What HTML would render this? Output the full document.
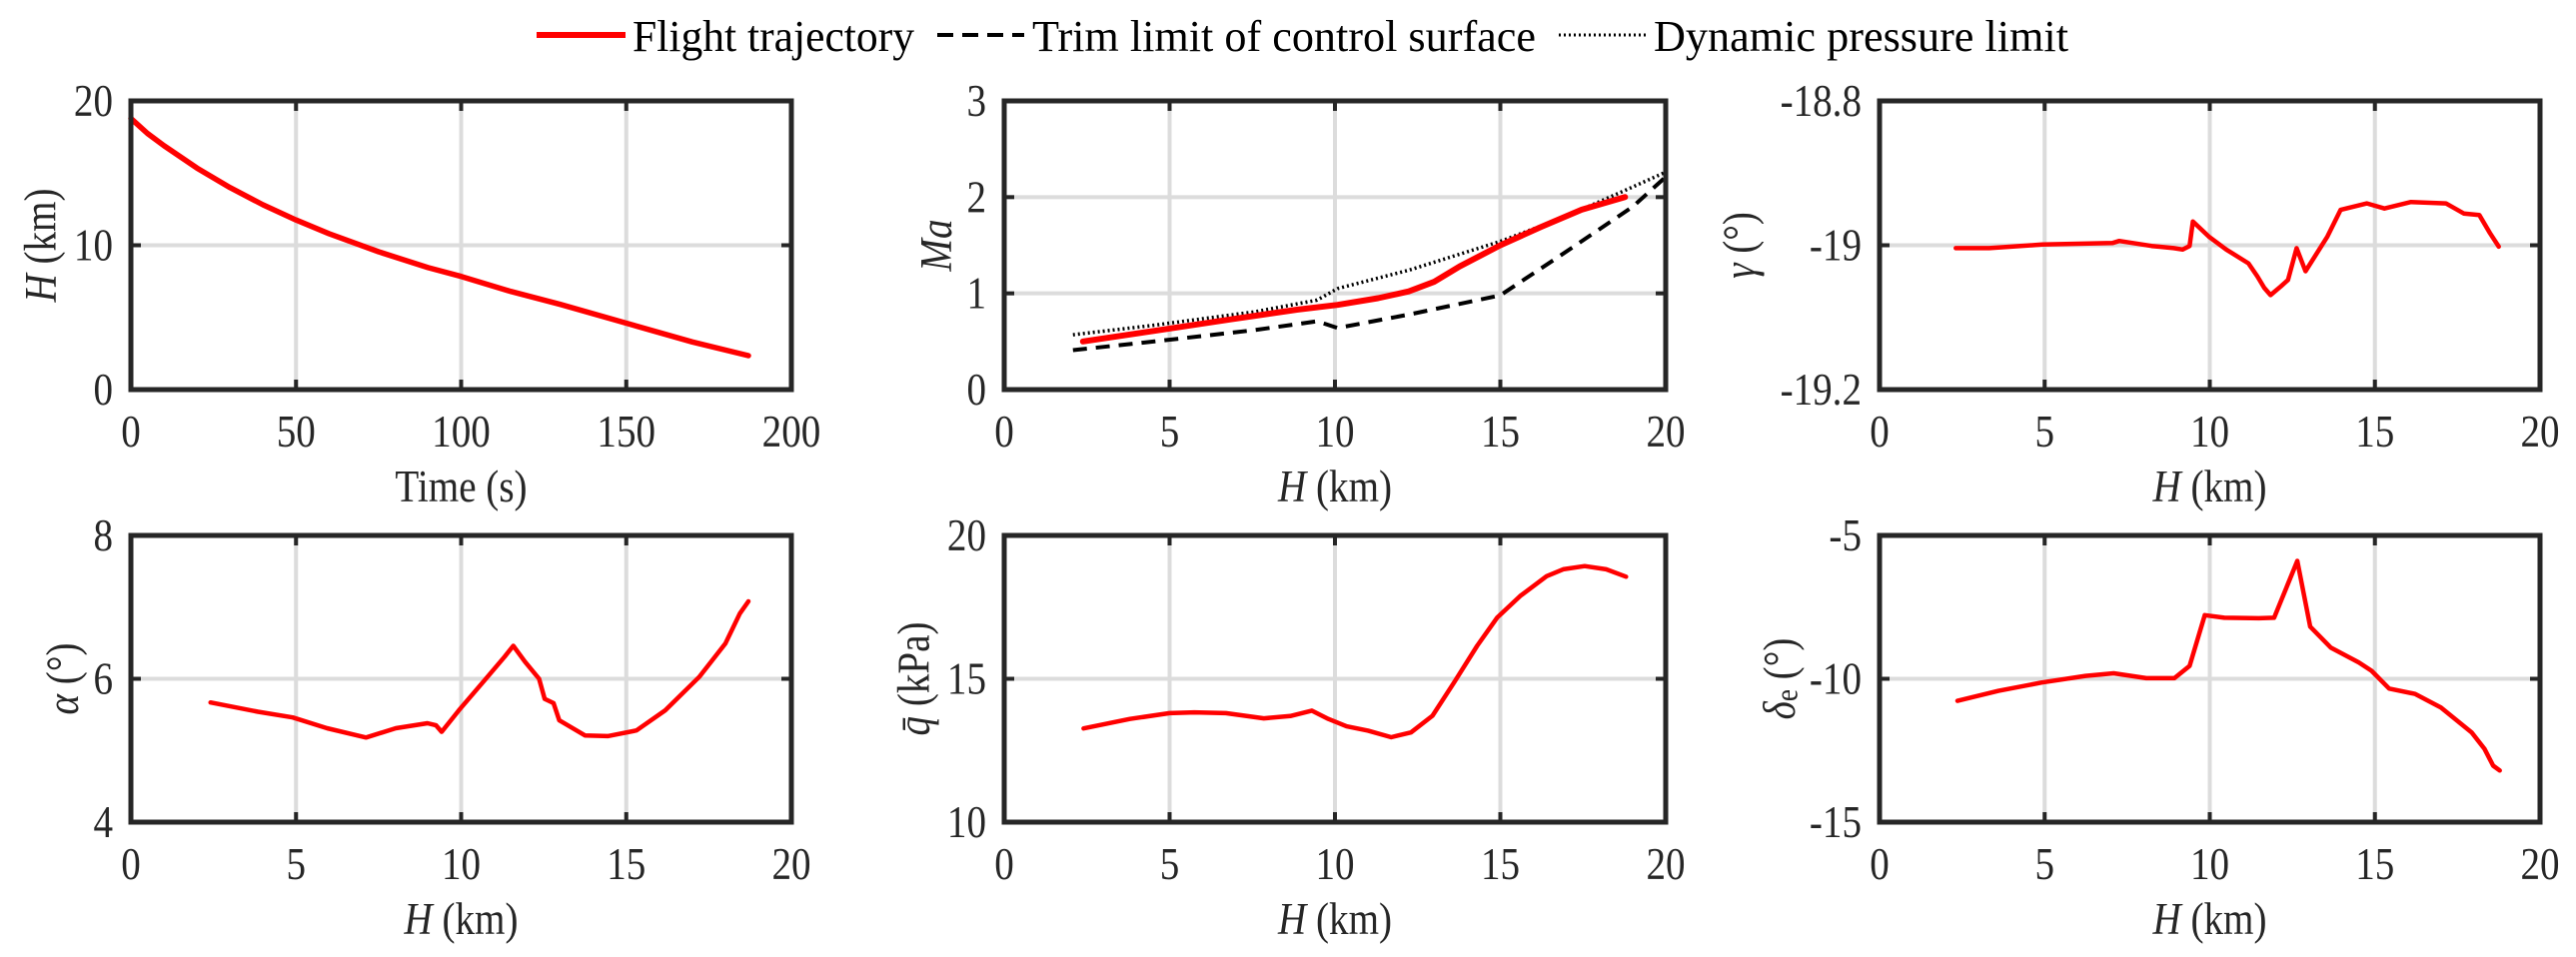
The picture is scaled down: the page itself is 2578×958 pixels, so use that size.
<!DOCTYPE html>
<html><head><meta charset="utf-8"><style>
html,body{margin:0;padding:0;background:#fff;}
svg{display:block;font-family:"Liberation Serif",serif;}
</style></head><body>
<svg id="fig" width="2578" height="958" viewBox="0 0 2578 958" xmlns="http://www.w3.org/2000/svg">
<g>
  <line x1="537" y1="35" x2="626" y2="35" stroke="#ff0000" stroke-width="6"/>
  <text x="633" y="51" font-size="44" textLength="282" lengthAdjust="spacingAndGlyphs">Flight trajectory</text>
  <line x1="938" y1="35" x2="1025" y2="35" stroke="#000" stroke-width="4" stroke-dasharray="16,9"/>
  <text x="1033" y="51" font-size="44" textLength="504" lengthAdjust="spacingAndGlyphs">Trim limit of control surface</text>
  <line x1="1560" y1="35" x2="1648" y2="35" stroke="#000" stroke-width="3" stroke-dasharray="2,3"/>
  <text x="1655" y="51" font-size="44" textLength="415" lengthAdjust="spacingAndGlyphs">Dynamic pressure limit</text>
</g>
</svg>
<script>
// ---- data ----
const hTime = [0,5,10,20,30,40,50,60,75,90,100,115,130,150,170,187];
const hAlt = [18.78,17.75,16.9,15.35,14.0,12.8,11.75,10.8,9.55,8.45,7.84,6.8,5.9,4.6,3.3,2.35];

const maH = [2.38,4.54,6.85,8.85,10.08,11.3,12.23,13.0,13.77,15.0,16.23,17.46,18.77];
const maVal = [0.50,0.61,0.73,0.83,0.88,0.95,1.02,1.12,1.28,1.5,1.69,1.87,2.0];
const trimH = [2.08,4.54,7.6,9.46,10.08,12.23,15.0,16.85,19.0,20];
const trimVal = [0.41,0.5,0.62,0.71,0.64,0.78,0.98,1.40,1.9,2.21];
const dynH = [2.08,4.54,7.6,9.46,10.08,12.23,15.0,16.85,18.7,20];
const dynVal = [0.57,0.67,0.81,0.93,1.05,1.24,1.54,1.78,2.06,2.26];

const gamH = [2.31,3.32,4.92,7.05,7.26,8.24,8.91,9.18,9.39,9.49,9.97,10.5,11.17,11.44,11.65,11.84,12.15,12.37,12.63,12.9,13.56,13.96,14.76,15.29,16.09,17.15,17.69,18.16,18.48,18.75];
const gamVal = [-19.004,-19.004,-18.999,-18.997,-18.994,-19.001,-19.004,-19.006,-19.001,-18.967,-18.988,-19.006,-19.025,-19.043,-19.059,-19.069,-19.057,-19.048,-19.004,-19.036,-18.988,-18.951,-18.942,-18.949,-18.94,-18.942,-18.956,-18.958,-18.983,-19.002];

const alpH = [2.41,3.85,4.9,5.94,7.12,8.02,8.98,9.24,9.41,9.93,10.71,11.32,11.58,11.93,12.36,12.53,12.8,12.97,13.75,14.44,15.31,16.18,17.22,18.0,18.44,18.7];
const alpVal = [5.67,5.54,5.46,5.31,5.18,5.31,5.38,5.35,5.26,5.56,5.98,6.31,6.46,6.24,6.0,5.72,5.66,5.42,5.21,5.2,5.28,5.56,6.03,6.49,6.91,7.08];

const qH = [2.4,3.8,5.0,5.75,6.7,7.85,8.65,9.3,9.8,10.35,11.0,11.7,12.3,12.95,13.6,14.3,14.9,15.6,16.4,16.9,17.55,18.2,18.8];
const qVal = [13.27,13.6,13.8,13.83,13.8,13.62,13.7,13.89,13.6,13.34,13.19,12.96,13.13,13.71,14.87,16.15,17.13,17.89,18.58,18.82,18.93,18.82,18.56];

const deH = [2.36,3.6,4.92,6.24,7.09,8.08,8.93,9.39,9.85,10.44,11.49,11.95,12.65,13.04,13.66,14.51,14.9,15.43,16.22,17.0,17.93,18.32,18.58,18.78];
const deVal = [-10.77,-10.42,-10.13,-9.9,-9.81,-9.98,-9.98,-9.55,-7.78,-7.87,-7.89,-7.87,-5.89,-8.18,-8.91,-9.43,-9.72,-10.34,-10.53,-11.0,-11.87,-12.45,-13.03,-13.2];

const ticksTime = [0,50,100,150,200];
const ticksH = [0,5,10,15,20];
const ticksAlt = [0,10,20];
const ticksMa = [0,1,2,3];
const ticksGam = [-19.2,-19,-18.8];
const tickLabGam = ["-19.2","-19","-18.8"];
const ticksAlp = [4,6,8];
const ticksQ = [10,15,20];
const ticksDe = [-15,-10,-5];

// ---- drawing ----
const NS = "http://www.w3.org/2000/svg";
const svg = document.getElementById("fig");
function mk(tag, attrs, parent){ const e=document.createElementNS(NS,tag); for(const k in attrs) e.setAttribute(k,attrs[k]); (parent||svg).appendChild(e); return e; }

function panel(o){
  const g = mk("g",{});
  
  
  const L=o.L, R=o.R, T=o.T, B=o.B;
  const sx = v => L + (v-o.xmin)/(o.xmax-o.xmin)*(R-L);
  const sy = v => B - (v-o.ymin)/(o.ymax-o.ymin)*(B-T);
  o.xt.forEach(v=>{ if(v!==o.xmin && v!==o.xmax){ const l=mk("line",{x1:sx(v),x2:sx(v),y1:T,y2:B,stroke:"#dcdcdc","stroke-width":4},g);
      }});
  o.yt.forEach(v=>{ if(v!==o.ymin && v!==o.ymax){ const l=mk("line",{x1:L,x2:R,y1:sy(v),y2:sy(v),stroke:"#dcdcdc","stroke-width":4},g);
      }});
  o.series.forEach(s=>{
    const pts = s.x.map((xv,i)=>sx(xv).toFixed(1)+","+sy(s.y[i]).toFixed(1)).join(" ");
    const p = mk("polyline",{points:pts,fill:"none",stroke:s.color,"stroke-width":s.w,"stroke-linejoin":"round","stroke-linecap":s.dash?"butt":"round"},g);
    if(s.dash) p.setAttribute("stroke-dasharray",s.dash);
    
    
  });
  o.xt.forEach(v=>{ mk("line",{x1:sx(v),x2:sx(v),y1:B,y2:B-10,stroke:"#262626","stroke-width":4},g); mk("line",{x1:sx(v),x2:sx(v),y1:T,y2:T+10,stroke:"#262626","stroke-width":4},g);
    const t=mk("text",{x:sx(v),y:B+57,"font-size":46,"text-anchor":"middle",fill:"#262626",transform:`translate(${sx(v)} 0) scale(0.85 1) translate(${-sx(v)} 0)`},g); t.textContent=v;
      });
  o.yt.forEach((v,i)=>{ mk("line",{x1:L,x2:L+10,y1:sy(v),y2:sy(v),stroke:"#262626","stroke-width":4},g); mk("line",{x1:R,x2:R-10,y1:sy(v),y2:sy(v),stroke:"#262626","stroke-width":4},g);
    const ax=L-18;
    const t=mk("text",{x:ax,y:sy(v)+15,"font-size":46,"text-anchor":"end",fill:"#262626",transform:`translate(${ax} 0) scale(0.85 1) translate(${-ax} 0)`},g); t.textContent=o.ylab?o.ylab[i]:v;
      });
  const f=mk("rect",{x:L,y:T,width:R-L,height:B-T,fill:"none",stroke:"#262626","stroke-width":5},g);
   
  const cx=(L+R)/2;
  const xt=mk("text",{x:cx,y:B+112,"font-size":46,"text-anchor":"middle",fill:"#262626",transform:`translate(${cx} 0) scale(0.85 1) translate(${-cx} 0)`},g); xt.innerHTML=o.xtitle;
   
  const yc=(T+B)/2, yx=L+o.ytOff;
  const yt=mk("text",{x:yx,y:yc,"font-size":46,"text-anchor":"middle","dominant-baseline":"central",fill:"#262626",transform:`rotate(-90 ${yx} ${yc}) translate(${yx} 0) scale(0.85 1) translate(${-yx} 0)`},g); yt.innerHTML=o.ytitle;
   
}
const Hkm = '<tspan font-style="italic">H</tspan> (km)';
const cols=[[131,792],[1005,1667],[1881,2542]], rows=[[101,390],[536,823]];
panel({name:"altitude-time-panel",L:cols[0][0],R:cols[0][1],T:rows[0][0],B:rows[0][1],xmin:0,xmax:200,ymin:0,ymax:20,xt:ticksTime,yt:ticksAlt,xtitle:"Time (s)",ytitle:Hkm,ytOff:-90,
  series:[{name:"flight-trajectory-line",x:hTime,y:hAlt,color:"#ff0000",w:5.5}]});
panel({name:"mach-panel",L:cols[1][0],R:cols[1][1],T:rows[0][0],B:rows[0][1],xmin:0,xmax:20,ymin:0,ymax:3,xt:ticksH,yt:ticksMa,xtitle:Hkm,ytitle:'<tspan font-style="italic">Ma</tspan>',ytOff:-68,
  series:[{name:"dynamic-pressure-limit-line",x:dynH,y:dynVal,color:"#000",w:3.5,dash:"2,3"},
          {name:"trim-limit-line",x:trimH,y:trimVal,color:"#000",w:4,dash:"14,9"},
          {name:"mach-flight-line",x:maH,y:maVal,color:"#ff0000",w:6}]});
panel({name:"flight-path-angle-panel",L:cols[2][0],R:cols[2][1],T:rows[0][0],B:rows[0][1],xmin:0,xmax:20,ymin:-19.2,ymax:-18.8,xt:ticksH,yt:ticksGam,ylab:tickLabGam,xtitle:Hkm,ytitle:'<tspan font-style="italic">γ</tspan> (°)',ytOff:-140,
  series:[{name:"gamma-line",x:gamH,y:gamVal,color:"#ff0000",w:4.5}]});
panel({name:"angle-of-attack-panel",L:cols[0][0],R:cols[0][1],T:rows[1][0],B:rows[1][1],xmin:0,xmax:20,ymin:4,ymax:8,xt:ticksH,yt:ticksAlp,xtitle:Hkm,ytitle:'<tspan font-style="italic">α</tspan> (°)',ytOff:-68,
  series:[{name:"alpha-line",x:alpH,y:alpVal,color:"#ff0000",w:4.5}]});
panel({name:"dynamic-pressure-panel",L:cols[1][0],R:cols[1][1],T:rows[1][0],B:rows[1][1],xmin:0,xmax:20,ymin:10,ymax:20,xt:ticksH,yt:ticksQ,xtitle:Hkm,ytitle:'<tspan font-style="italic">q̄</tspan> (kPa)',ytOff:-90,
  series:[{name:"q-line",x:qH,y:qVal,color:"#ff0000",w:4.5}]});
panel({name:"elevator-deflection-panel",L:cols[2][0],R:cols[2][1],T:rows[1][0],B:rows[1][1],xmin:0,xmax:20,ymin:-15,ymax:-5,xt:ticksH,yt:ticksDe,xtitle:Hkm,ytitle:'<tspan font-style="italic">δ</tspan><tspan font-size="32" dy="8">e</tspan><tspan dy="-8"> (°)</tspan>',ytOff:-100,
  series:[{name:"delta-e-line",x:deH,y:deVal,color:"#ff0000",w:4.5}]});
</script>
</body></html>
